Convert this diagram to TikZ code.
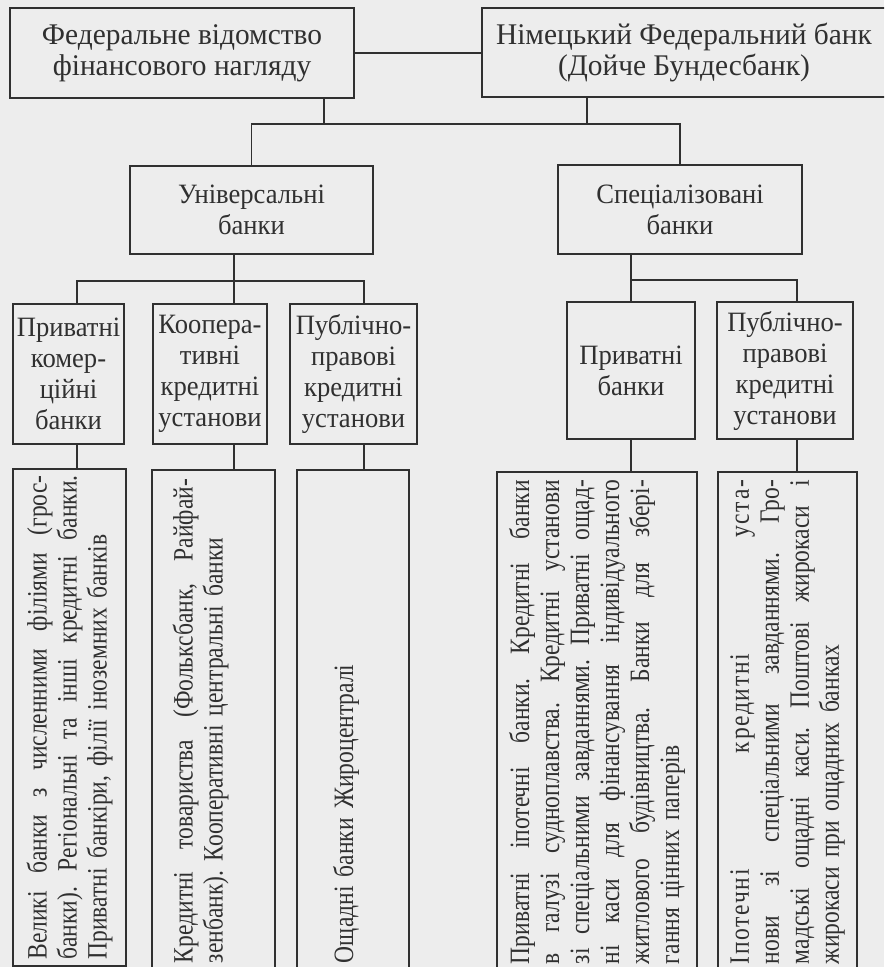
\documentclass[tikz,border=0pt]{standalone}
\usepackage{fontspec}
\setmainfont{Liberation Serif}
\newfontfamily\headfont{Liberation Serif}[FakeStretch=0.98]
\newfontfamily\boxfont{Liberation Serif}[FakeStretch=0.95]
\newfontfamily\narrowfont{Liberation Serif}[FakeStretch=0.84]
\usepackage{tikz}

\definecolor{paper}{RGB}{237,237,237}
\definecolor{ink}{RGB}{48,48,48}

\newcommand{\fullline}[1]{\makebox[\hsize][s]{\spaceskip=0pt\xspaceskip=0pt #1}\par}
\newcommand{\tailgap}[1]{\par\vspace{#1}\hrule height 0pt}
\frenchspacing

\begin{document}
\begin{tikzpicture}[x=0.5pt,y=-0.5pt,
    link/.style={draw=ink,line width=0.7pt},
    box/.style={draw=ink,line width=0.7pt,align=center,inner sep=0pt,text=ink,
      font=\boxfont\fontsize{14}{15.5}\selectfont},
    headbox/.style={box,font=\headfont\fontsize{15}{15.5}\selectfont},
    vbox/.style={draw=ink,line width=0.7pt,rotate=90,inner sep=0pt,text=ink,
      text width=242pt,align=left,font=\narrowfont\fontsize{14}{15}\selectfont}]
    \useasboundingbox (0,0) rectangle (884,967);
    \fill[paper] (0,0) rectangle (884,967);
    \clip (0,0) rectangle (884,967);

    \node[headbox,minimum width=172pt,minimum height=45pt] (fed) at (182,53) {Федеральне відомство\\фінансового нагляду};
    \node[headbox,minimum width=202pt,minimum height=44.5pt] (bund) at (684,52.5) {Німецький Федеральний банк\\(Дойче Бундесбанк)};

    \node[box,minimum width=121.5pt,minimum height=44pt] (univ) at (251.5,210) {Універсальні\\банки};
    \node[box,minimum width=122pt,minimum height=44.5pt] (spec) at (680,209.5) {Спеціалізовані\\банки};

    \node[box,minimum width=55.5pt,minimum height=70pt] (privk) at (68.5,374) {Приватні\\комер-\\ційні\\банки};
    \node[box,minimum width=57pt,minimum height=70pt] (coop) at (210,374) {Коопера-\\тивні\\кредитні\\установи};
    \node[box,minimum width=63.5pt,minimum height=70pt] (publ) at (353.5,374) {Публічно-\\правові\\кредитні\\установи};
    \node[box,minimum width=64pt,minimum height=68.5pt] (privs) at (631,370.5) {Приватні\\банки};
    \node[box,minimum width=68pt,minimum height=68.5pt] (publs) at (785,370.5) {Публічно-\\правові\\кредитні\\установи};

    \node[vbox,minimum width=248.5pt,minimum height=56.5pt] (gross) at (69.5,717.5) {%
      \fullline{Великі банки з численними філіями (грос-}%
      \fullline{банки). Регіональні та інші кредитні банки.}%
      Приватні банкіри, філії іноземних банків};
    \node[vbox,minimum width=251pt,minimum height=61.5pt] (volks) at (213.5,721) {%
      \fullline{Кредитні товариства (Фольксбанк, Райфай-}%
      зенбанк). Кооперативні центральні банки\tailgap{13pt}};
    \node[vbox,minimum width=251pt,minimum height=56pt] (spark) at (353,721) {%
      Ощадні банки Жироцентралі\tailgap{7pt}};
    \node[vbox,minimum width=250pt,minimum height=100pt] (hypo) at (597,722) {%
      \fullline{Приватні іпотечні банки. Кредитні банки}%
      \fullline{в галузі судноплавства. Кредитні установи}%
      \fullline{зі спеціальними завданнями. Приватні ощад-}%
      \fullline{ні каси для фінансування індивідуального}%
      \fullline{житлового будівництва. Банки для збері-}%
      гання цінних паперів};
    \node[vbox,minimum width=250pt,minimum height=69.5pt] (post) at (787.5,722) {%
      \fullline{\addfontfeature{LetterSpace=6}Іпотечні кредитні уста-}%
      \fullline{нови зі спеціальними завданнями. Гро-}%
      \fullline{мадські ощадні каси. Поштові жирокаси і}%
      жирокаси при ощадних банках};

    \coordinate (busA) at (324,124);
    \coordinate (busB) at (587,124);
    \coordinate (c1) at (77,281);
    \coordinate (c2) at (234,281);
    \coordinate (c3) at (364,281);
    \coordinate (d2) at (797,280);

    \draw[link] (fed.east) -- (fed.east -| bund.west);
    \draw[link] (fed.south -| busA) -- (busA);
    \draw[link] (bund.south -| busB) -- (busB);
    \draw[link] (univ.north) |- (spec.north |- busA) -- (spec.north);

    \draw[link] (univ.south -| c2) -- (c2);
    \draw[link] (privk.north -| c1) |- (c3) -- (publ.north -| c3);
    \draw[link] (c2) -- (coop.north -| c2);
    \draw[link] (spec.south -| privs.north) -- (privs.north);
    \draw[link] (privs.north |- d2) -- (d2) -- (publs.north -| d2);

    \draw[link] (privk.south -| c1) -- (gross.east -| c1);
    \draw[link] (coop.south -| c2) -- (volks.east -| c2);
    \draw[link] (publ.south -| c3) -- (spark.east -| c3);
    \draw[link] (privs.south) -- (hypo.east -| privs.south);
    \draw[link] (publs.south -| d2) -- (post.east -| d2);
\end{tikzpicture}
\end{document}
